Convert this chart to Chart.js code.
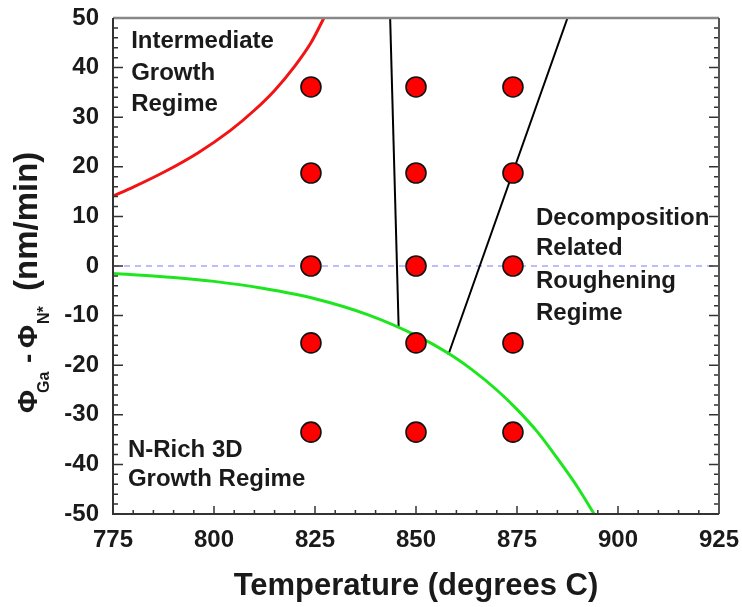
<!DOCTYPE html>
<html><head><meta charset="utf-8">
<script src="https://cdn.jsdelivr.net/npm/chart.js@4.4.0/dist/chart.umd.min.js"></script>
<style>html,body{margin:0;padding:0;background:#fff}#wrap{width:742px;height:607px}canvas{display:block}</style>
</head><body><div id="wrap"><canvas id="c" width="742" height="607"></canvas></div>
<script>
// ---- data ----
const sampleTemps = [824, 850, 874];
const sampleFluxes = [36.1, 18.75, 0, -15.5, -33.5];

const redCurveT    = [775, 780, 788, 796, 804, 810, 815, 820, 824, 827.2];
const redCurveFlux = [14.1, 15.9, 19.1, 22.8, 27.3, 31.4, 35.4, 40.3, 45.0, 50];

const greenCurveT    = [775, 790, 800, 812, 825, 838, 850, 858, 864, 870, 875, 880, 885, 890, 894.1];
const greenCurveFlux = [-1.5, -2.3, -3.1, -4.5, -6.6, -9.8, -14.0, -17.6, -21.0, -25.0, -28.9, -33.4, -38.8, -44.6, -50];

const boundary1T    = [843.6, 845.7];
const boundary1Flux = [50, -12.2];
const boundary2T    = [887.5, 858.0];
const boundary2Flux = [50, -17.9];

const zeroLineT    = [775, 925];
const zeroLineFlux = [0, 0];

const xTickValues = [775, 800, 825, 850, 875, 900, 925];
const yTickValues = [-50, -40, -30, -20, -10, 0, 10, 20, 30, 40, 50];

const annotations = [
  {lines: ['Intermediate', 'Growth', 'Regime'], t: 779.5, flux: [45.2, 38.9, 32.5]},
  {lines: ['Decomposition', 'Related', 'Roughening', 'Regime'], t: 879.7, flux: [9.7, 3.6, -3.0, -9.5]},
  {lines: ['N-Rich 3D', 'Growth Regime'], t: 778.7, flux: [-37.1, -43.1]}
];

const zip = (xs, ys) => xs.map((v, i) => ({x: v, y: ys[i]}));
const samplePoints = [];
sampleTemps.forEach(t => sampleFluxes.forEach(f => samplePoints.push({x: t, y: f})));

const FONT = '"Liberation Sans", Arial, Helvetica, sans-serif';
const TEXT = '#1a1a1a';

const decor = {
  id: 'decor',
  afterDatasetsDraw(chart) {
    const {ctx, chartArea: a, scales: {x, y}} = chart;
    ctx.save();
    ctx.strokeStyle = '#333';
    ctx.lineWidth = 1.5;
    ctx.beginPath();
    for (let v = -50; v <= 50; v += 2) {
      const py = y.getPixelForValue(v);
      const len = (v % 10 === 0) ? 10 : 5;
      ctx.moveTo(a.left, py); ctx.lineTo(a.left + len, py);
      ctx.moveTo(a.right, py); ctx.lineTo(a.right - len, py);
    }
    for (let v = 775; v <= 925; v += 5) {
      const px = x.getPixelForValue(v);
      const len = ((v - 775) % 25 === 0) ? 8 : 4;
      ctx.moveTo(px, a.bottom); ctx.lineTo(px, a.bottom - len);
    }
    ctx.stroke();
    ctx.lineWidth = 2.5; ctx.strokeStyle = '#888';
    ctx.beginPath(); ctx.moveTo(a.left, a.top); ctx.lineTo(a.right, a.top); ctx.stroke();
    ctx.lineWidth = 2; ctx.strokeStyle = '#555';
    ctx.beginPath(); ctx.moveTo(a.right, a.top); ctx.lineTo(a.right, a.bottom); ctx.stroke();
    ctx.strokeStyle = '#333';
    ctx.beginPath(); ctx.moveTo(a.left, a.top); ctx.lineTo(a.left, a.bottom); ctx.lineTo(a.right, a.bottom); ctx.stroke();
    ctx.restore();
  },
  afterDraw(chart) {
    const {ctx, chartArea: a, scales: {x, y}} = chart;
    ctx.save();
    ctx.fillStyle = TEXT;
    ctx.font = 'bold 24px ' + FONT;
    ctx.textAlign = 'left';
    ctx.textBaseline = 'middle';
    annotations.forEach(an => {
      an.lines.forEach((ln, i) => {
        ctx.fillText(ln, x.getPixelForValue(an.t), y.getPixelForValue(an.flux[i]));
      });
    });
    ctx.font = 'bold 31px ' + FONT;
    ctx.textAlign = 'center';
    ctx.fillText('Temperature (degrees C)', (a.left + a.right) / 2, 586);
    ctx.translate(37, 413);
    ctx.rotate(-Math.PI / 2);
    ctx.textAlign = 'left';
    ctx.textBaseline = 'alphabetic';
    const big = 'bold 28px ' + FONT, sub = 'bold 16px ' + FONT;
    ctx.font = big; ctx.fillText('\u03A6', 0, 0);
    ctx.font = sub; ctx.fillText('Ga', 20, 12);
    ctx.font = big; ctx.fillText('-', 50, 0);
    ctx.font = big; ctx.fillText('\u03A6', 65, 0);
    ctx.font = sub; ctx.fillText('N*', 89, 12);
    ctx.font = 'bold 33px ' + FONT; ctx.fillText('(nm/min)', 122, 0);
    ctx.restore();
  }
};

new Chart(document.getElementById('c'), {
  type: 'scatter',
  data: {
    datasets: [
      {data: samplePoints, showLine: false, pointRadius: 10, pointHoverRadius: 10,
       backgroundColor: '#ff0000', borderColor: '#111', pointBorderWidth: 1.6, borderWidth: 1.6, order: 0},
      {data: zip(redCurveT, redCurveFlux), showLine: true, pointRadius: 0, borderColor: '#f21414',
       borderWidth: 3, cubicInterpolationMode: 'monotone', order: 1},
      {data: zip(greenCurveT, greenCurveFlux), showLine: true, pointRadius: 0, borderColor: '#1ee61e',
       borderWidth: 3, cubicInterpolationMode: 'monotone', order: 2},
      {data: zip(boundary1T, boundary1Flux), showLine: true, pointRadius: 0, borderColor: '#000', borderWidth: 2, order: 3},
      {data: zip(boundary2T, boundary2Flux), showLine: true, pointRadius: 0, borderColor: '#000', borderWidth: 2, order: 4},
      {data: zip(zeroLineT, zeroLineFlux), showLine: true, pointRadius: 0, borderColor: '#7a7aff',
       borderWidth: 1.2, borderDash: [6, 5], order: 5}
    ]
  },
  options: {
    responsive: false,
    animation: false,
    devicePixelRatio: 1,
    layout: {padding: {top: 18, right: 23, left: 0, bottom: 0}},
    plugins: {legend: {display: false}, tooltip: {enabled: false}},
    scales: {
      x: {
        type: 'linear', min: 775, max: 925,
        afterBuildTicks: s => { s.ticks = xTickValues.map(v => ({value: v})); },
        afterFit: s => { s.height = 93; s.paddingLeft = 0; s.paddingRight = 0; },
        grid: {display: false, drawTicks: false},
        border: {display: false},
        ticks: {padding: 12, color: TEXT, font: {family: FONT, size: 24, weight: 'bold'}, maxRotation: 0}
      },
      y: {
        type: 'linear', min: -50, max: 50,
        afterBuildTicks: s => { s.ticks = yTickValues.map(v => ({value: v})); },
        afterFit: s => { s.width = 113; s.paddingTop = 0; s.paddingBottom = 0; },
        grid: {display: false, drawTicks: false},
        border: {display: false},
        ticks: {padding: 14, color: TEXT, font: {family: FONT, size: 24, weight: 'bold'}}
      }
    }
  },
  plugins: [decor]
});
</script>
</body></html>
